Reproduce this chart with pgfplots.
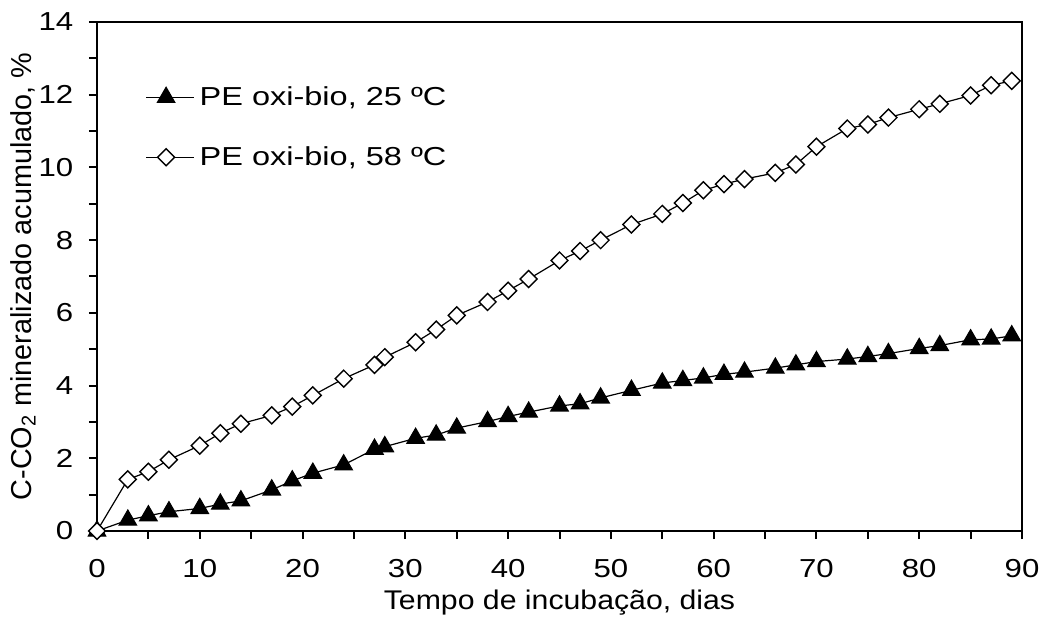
\documentclass[border=0pt]{standalone}
\usepackage{fontspec}
\setmainfont{Liberation Sans}
\usepackage{pgfplots}
\pgfplotsset{compat=1.18}

% dias, C-CO2 acumulado (%)
\pgfplotstableread{
x y
0 0
3 0.30
5 0.42
7 0.53
10 0.62
12 0.74
14 0.83
17 1.13
19 1.38
21 1.59
24 1.82
27 2.25
28 2.32
31 2.55
33 2.64
35 2.83
38 3.01
40 3.15
42 3.27
45 3.44
47 3.50
49 3.66
52 3.87
55 4.07
57 4.14
59 4.21
61 4.31
63 4.37
66 4.48
68 4.57
70 4.66
73 4.73
75 4.80
77 4.88
80 5.02
82 5.10
85 5.26
87 5.28
89 5.37
}\tabA

\pgfplotstableread{
x y
0 0
3 1.42
5 1.63
7 1.96
10 2.35
12 2.69
14 2.95
17 3.18
19 3.42
21 3.73
24 4.19
27 4.57
28 4.78
31 5.19
33 5.54
35 5.93
38 6.30
40 6.61
42 6.93
45 7.44
47 7.70
49 8.00
52 8.43
55 8.72
57 9.02
59 9.37
61 9.54
63 9.68
66 9.85
68 10.08
70 10.57
73 11.07
75 11.18
77 11.37
80 11.60
82 11.75
85 11.98
87 12.26
89 12.38
}\tabB

\newcommand{\ftick}{\fontsize{13}{16}\selectfont}
\newcommand{\flab}{\fontsize{13.5}{16}\selectfont}
\newcommand{\fylab}{\fontsize{14.4}{17}\selectfont}
\newcommand{\fleg}{\fontsize{13}{16}\selectfont}

\begin{document}
\begin{tikzpicture}
\begin{axis}[
    name=ax,
    scale only axis,
    width=462.5pt, height=254.5pt,
    xmin=0, xmax=90, ymin=0, ymax=14,
    xtick={0,10,...,90}, ytick={0,2,...,14},
    minor x tick num=1, minor y tick num=1,
    tick align=outside,
    xtick pos=left, ytick pos=left,
    major tick length=4pt, minor tick length=4pt,
    every tick/.style={black, line width=1pt},
    axis line style={line width=1.4pt},
    /pgf/number format/assume math mode=true,
    ticklabel style={font=\ftick, xscale=1.2},
    xticklabel style={yshift=-6.5pt},
    yticklabel style={xshift=-3pt},
    clip=false,
    xlabel={Tempo de incubação, dias},
    ylabel={C-CO\textsubscript{2} mineralizado acumulado, \%},
    every axis x label/.style={at={(axis description cs:0.5,-0.14)}, anchor=center, font=\flab, xscale=1.12},
    every axis y label/.style={at={(axis description cs:-0.080,0.5)}, rotate=90, anchor=center, font=\fylab},
    legend style={draw=none, fill=none, font=\fleg, at={(axis description cs:0.052,0.882)}, anchor=north west, row sep=15pt, inner sep=0pt, nodes={xscale=1.25}},
    legend cell align=left,
    legend image code/.code={
        \path (0pt,0pt) -- (24pt,0pt);
        \draw[mark repeat=2, mark phase=2, #1] plot coordinates {(0pt,0pt) (10pt,0pt) (20pt,0pt)};
    },
]
\addplot[black, line width=0.6pt, mark=triangle*, mark size=5pt, mark options={fill=black}] table {\tabA};
\addlegendentry{PE oxi-bio, 25 ºC}
\addplot[black, line width=0.6pt, mark=square*, mark size=3pt, mark options={fill=white, rotate=45, line width=0.7pt}] table {\tabB};
\addlegendentry{PE oxi-bio, 58 ºC}
\end{axis}
\pgfresetboundingbox
\path ([xshift=-48.5pt,yshift=-44.5pt]ax.south west) rectangle ([xshift=10pt,yshift=11pt]ax.north east);
\end{tikzpicture}
\end{document}
